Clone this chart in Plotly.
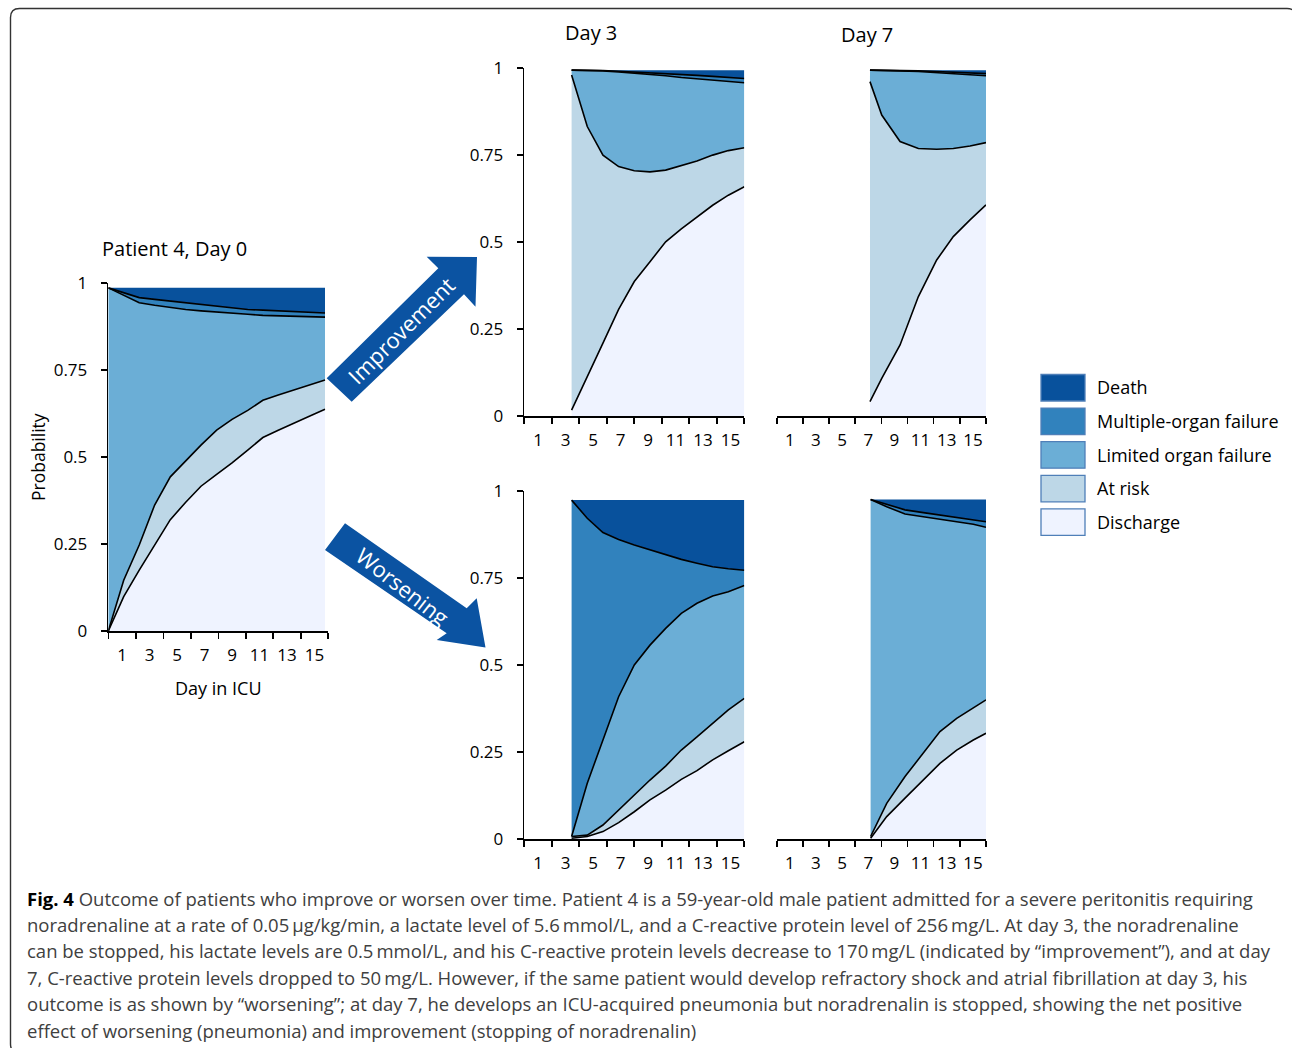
import plotly.graph_objects as go

W, H = 1292, 1048

# ---------------- data (cumulative upper bounds of each state) -------------
STATES = ["Discharge", "At risk", "Limited organ failure", "Multiple-organ failure", "Death"]
STATE_COLORS = ["#eff3ff", "#bdd7e7", "#6baed6", "#3182bd", "#08519c"]

X_TICK_LABELS = ["1", "3", "5", "7", "9", "11", "13", "15"]
X_TICK_POS = [1, 3, 5, 7, 9, 11, 13, 15]
X_TICK_MARKS = [0, 2, 4, 6, 8, 10, 12, 14, 16]
Y_TICK_POS = [0, 0.25, 0.5, 0.75, 1]
Y_TICK_LABELS = ["0", "0.25", "0.5", "0.75", "1"]

# Patient 4, Day 0
day0_x = [0, 1.12, 2.25, 3.37, 4.51, 5.63, 6.74, 7.88, 9.0, 10.14, 11.24, 12.36, 13.5, 14.62, 15.76]
day0_discharge = [0, 0.099, 0.175, 0.245, 0.32, 0.37, 0.416, 0.45, 0.483, 0.52, 0.556, 0.577, 0.598, 0.617, 0.637]
day0_at_risk = [0, 0.146, 0.247, 0.362, 0.443, 0.489, 0.534, 0.577, 0.608, 0.634, 0.663, 0.678, 0.692, 0.706, 0.721]
day0_limited = [0.986, 0.965, 0.943, 0.936, 0.929, 0.924, 0.920, 0.916, 0.913, 0.910, 0.907, 0.906, 0.905, 0.904, 0.902]
day0_multiple = [0.986, 0.971, 0.958, 0.953, 0.948, 0.944, 0.939, 0.933, 0.928, 0.924, 0.922, 0.920, 0.918, 0.916, 0.914]
day0_death = [0.986, 0.986, 0.986, 0.986, 0.986, 0.986, 0.986, 0.986, 0.986, 0.986, 0.986, 0.986, 0.986, 0.986, 0.986]

# Improvement, Day 3
imp3_x = [3.44, 4.58, 5.72, 6.86, 8.0, 9.14, 10.28, 11.42, 12.56, 13.7, 14.84, 16.0]
imp3_discharge = [0.017, 0.111, 0.209, 0.306, 0.386, 0.443, 0.50, 0.537, 0.572, 0.605, 0.634, 0.658]
imp3_at_risk = [0.979, 0.831, 0.749, 0.716, 0.704, 0.701, 0.706, 0.719, 0.732, 0.749, 0.762, 0.770]
imp3_limited = [0.993, 0.993, 0.991, 0.988, 0.985, 0.981, 0.977, 0.972, 0.968, 0.964, 0.960, 0.957]
imp3_multiple = [0.993, 0.993, 0.992, 0.990, 0.988, 0.986, 0.984, 0.981, 0.978, 0.975, 0.972, 0.969]
imp3_death = [0.993, 0.993, 0.993, 0.993, 0.993, 0.993, 0.993, 0.993, 0.993, 0.993, 0.993, 0.993]

# Improvement, Day 7
imp7_x = [7.13, 8.03, 9.43, 10.83, 12.23, 13.5, 14.78, 16.0]
imp7_discharge = [0.041, 0.108, 0.204, 0.343, 0.448, 0.515, 0.563, 0.606]
imp7_at_risk = [0.960, 0.864, 0.788, 0.768, 0.766, 0.768, 0.775, 0.785]
imp7_limited = [0.993, 0.993, 0.991, 0.989, 0.986, 0.983, 0.980, 0.977]
imp7_multiple = [0.993, 0.993, 0.992, 0.991, 0.989, 0.987, 0.985, 0.983]
imp7_death = [0.993, 0.993, 0.993, 0.993, 0.993, 0.993, 0.993, 0.993]

# Worsening, Day 3
wor3_x = [3.44, 4.58, 5.72, 6.86, 8.0, 9.14, 10.28, 11.42, 12.56, 13.7, 14.84, 16.0]
wor3_discharge = [0.003, 0.008, 0.022, 0.048, 0.079, 0.113, 0.141, 0.172, 0.197, 0.228, 0.254, 0.280]
wor3_at_risk = [0.008, 0.012, 0.041, 0.084, 0.127, 0.170, 0.210, 0.256, 0.294, 0.333, 0.371, 0.404]
wor3_limited = [0.008, 0.161, 0.285, 0.409, 0.50, 0.557, 0.605, 0.648, 0.677, 0.698, 0.710, 0.728]
wor3_multiple = [0.973, 0.921, 0.880, 0.860, 0.844, 0.830, 0.816, 0.803, 0.792, 0.782, 0.776, 0.772]
wor3_death = [0.973, 0.973, 0.973, 0.973, 0.973, 0.973, 0.973, 0.973, 0.973, 0.973, 0.973, 0.973]

# Worsening, Day 7
wor7_x = [7.18, 8.41, 9.81, 11.21, 12.48, 13.76, 15.03, 16.0]
wor7_discharge = [0.003, 0.065, 0.118, 0.170, 0.218, 0.256, 0.285, 0.304]
wor7_at_risk = [0.008, 0.103, 0.180, 0.247, 0.309, 0.347, 0.376, 0.400]
wor7_limited = [0.975, 0.954, 0.933, 0.925, 0.919, 0.911, 0.904, 0.895]
wor7_multiple = [0.975, 0.961, 0.945, 0.937, 0.930, 0.924, 0.918, 0.911]
wor7_death = [0.975, 0.975, 0.975, 0.975, 0.975, 0.975, 0.975, 0.975]

CAPTION_LINES = [
    "<b style='color:#000'>Fig. 4</b> Outcome of patients who improve or worsen over time. Patient 4 is a 59-year-old male patient admitted for a severe peritonitis requiring",
    "noradrenaline at a rate of 0.05\u2009\u03bcg/kg/min, a lactate level of 5.6\u2009mmol/L, and a C-reactive protein level of 256\u2009mg/L. At day 3, the noradrenaline",
    "can be stopped, his lactate levels are 0.5\u2009mmol/L, and his C-reactive protein levels decrease to 170\u2009mg/L (indicated by \u201cimprovement\u201d), and at day",
    "7, C-reactive protein levels dropped to 50\u2009mg/L. However, if the same patient would develop refractory shock and atrial fibrillation at day 3, his",
    "outcome is as shown by \u201cworsening\u201d; at day 7, he develops an ICU-acquired pneumonia but noradrenalin is stopped, showing the net positive",
    "effect of worsening (pneumonia) and improvement (stopping of noradrenalin)",
]

# ---------------- layout helpers ----------------
FONT = "Open Sans"
CHART_FONT = "Open Sans"


def fx(px):
    return px / W


def fy(py):
    return 1 - py / H


def dom_x(a, b):
    return [a / W, b / W]


def dom_y(top, bottom):
    return [1 - bottom / H, 1 - top / H]


panels = [
    # axis suffix, x, series, x-domain px, y-domain px, show y axis
    ("", day0_x, [day0_discharge, day0_at_risk, day0_limited, day0_multiple, day0_death], (108.3, 328.3), (283, 631), True),
    ("2", imp3_x, [imp3_discharge, imp3_at_risk, imp3_limited, imp3_multiple, imp3_death], (524.3, 744.3), (67.7, 416), True),
    ("3", imp7_x, [imp7_discharge, imp7_at_risk, imp7_limited, imp7_multiple, imp7_death], (776.7, 986), (67.7, 416), False),
    ("4", wor3_x, [wor3_discharge, wor3_at_risk, wor3_limited, wor3_multiple, wor3_death], (524.3, 744.3), (490.7, 839.3), True),
    ("5", wor7_x, [wor7_discharge, wor7_at_risk, wor7_limited, wor7_multiple, wor7_death], (776.7, 986), (490.7, 839.3), False),
]

fig = go.Figure()
layout = dict(
    width=W, height=H, margin=dict(l=0, r=0, t=0, b=0, pad=0, autoexpand=False),
    paper_bgcolor="white", plot_bgcolor="rgba(0,0,0,0)",
    showlegend=False, font=dict(family=CHART_FONT, color="black"),
)

for suf, xs, series, (xa, xb), (yt, yb), showy in panels:
    xref = "x" + suf
    yref = "y" + suf
    for i, (name, col, ys) in enumerate(zip(STATES, STATE_COLORS, series)):
        is_top = i == len(STATES) - 1
        fig.add_trace(go.Scatter(
            x=xs, y=ys, mode="lines", name=name,
            xaxis=xref, yaxis=yref,
            fill="tozeroy" if i == 0 else "tonexty",
            fillcolor=col,
            line=dict(color="black", width=0 if is_top else 1.6),
            hoverinfo="skip",
        ))
    layout["xaxis" + suf] = dict(
        domain=dom_x(xa, xb), anchor=yref, range=[0, 16],
        tickmode="array", tickvals=X_TICK_POS, ticktext=X_TICK_LABELS, ticks="",
        tickfont=dict(family=CHART_FONT, size=17, color="black"),
        ticklabelstandoff=8, automargin=False,
        showline=True, linecolor="black", linewidth=1.6,
        showgrid=False, zeroline=False, fixedrange=True,
        minor=dict(tickmode="array", tickvals=X_TICK_MARKS, ticks="outside",
                   ticklen=6, tickwidth=1.6, tickcolor="black", showgrid=False),
    )
    layout["yaxis" + suf] = dict(
        domain=dom_y(yt, yb), anchor=xref, range=[0, 1],
        tickmode="array", tickvals=Y_TICK_POS, ticktext=Y_TICK_LABELS,
        ticks="outside", ticklen=6, tickwidth=1.6, tickcolor="black",
        tickfont=dict(family=CHART_FONT, size=17, color="black"),
        ticklabelstandoff=10, automargin=False,
        showline=True, linecolor="black", linewidth=1.6,
        showgrid=False, zeroline=False, fixedrange=True, visible=showy,
    )

fig.update_layout(**layout)

annotations = []


def ann(text, x, y, size, xanchor="center", yanchor="middle", color="black", angle=0, family=CHART_FONT):
    annotations.append(dict(
        text=text, x=fx(x), y=fy(y), xref="paper", yref="paper",
        xanchor=xanchor, yanchor=yanchor, showarrow=False, textangle=angle,
        font=dict(family=family, size=size, color=color),
    ))


# titles and axis labels
ann("Patient 4, Day 0", 100, 248, 20, xanchor="left")
ann("Day 3", 591, 33, 20)
ann("Day 7", 867, 35, 20)
ann("Day in ICU", 218, 688, 18)
ann("Probability", 38, 457, 17.5, angle=-90)

# arrows with text
ARROW_COLOR = "#0b53a2"


def path_px(points):
    s = "M " + " L ".join(f"{fx(x):.5f},{fy(y):.5f}" for x, y in points) + " Z"
    return s


shapes = []
improve_pts = [(326.7, 378.3), (438.3, 268.3), (426.7, 256.7), (477, 257), (475.5, 306.7), (464, 294.3), (351.7, 401.7)]
worsen_pts = [(345, 523.3), (466.7, 608.3), (476.7, 598.3), (485.5, 647.5), (436.7, 640), (446.7, 633.3), (325, 550)]
for pts in (improve_pts, worsen_pts):
    shapes.append(dict(type="path", xref="paper", yref="paper", path=path_px(pts),
                       fillcolor=ARROW_COLOR, line=dict(width=0)))
ann("Improvement", 401, 330, 22, color="white", angle=-45)
ann("Worsening", 403, 586, 22, color="white", angle=38)

# legend (drawn)
legend_items = list(zip(STATES, STATE_COLORS))[::-1]
for k, (name, col) in enumerate(legend_items):
    top = 374.5 + k * 33.6
    shapes.append(dict(type="rect", xref="paper", yref="paper",
                       x0=fx(1041), x1=fx(1085), y0=fy(top), y1=fy(top + 26.5),
                       fillcolor=col, line=dict(color="#4f7fb8", width=1.3)))
    ann(name, 1095, top + 13, 18, xanchor="left")

# frame with rounded corners
r = 9
L, T, R, B = 10.5, 8.5, 1296, 1053
frame = (f"M {fx(L)},{fy(T + r)} Q {fx(L)},{fy(T)} {fx(L + r)},{fy(T)} "
         f"L {fx(R - r)},{fy(T)} Q {fx(R)},{fy(T)} {fx(R)},{fy(T + r)} "
         f"L {fx(R)},{fy(B - r)} Q {fx(R)},{fy(B)} {fx(R - r)},{fy(B)} "
         f"L {fx(L + r)},{fy(B)} Q {fx(L)},{fy(B)} {fx(L)},{fy(B - r)} Z")
shapes.append(dict(type="path", xref="paper", yref="paper", path=frame,
                   line=dict(color="#333333", width=1.4), fillcolor="rgba(0,0,0,0)"))

# caption
for i, line in enumerate(CAPTION_LINES):
    ann(line, 25, 898 + i * 26.4, 18.5, xanchor="left", color="#404040", family=FONT)

fig.update_layout(annotations=annotations, shapes=shapes)

fig.write_html("out.html", config={"displayModeBar": False, "staticPlot": True},
               post_script="document.body.style.margin='0px';document.body.style.overflow='hidden';")
